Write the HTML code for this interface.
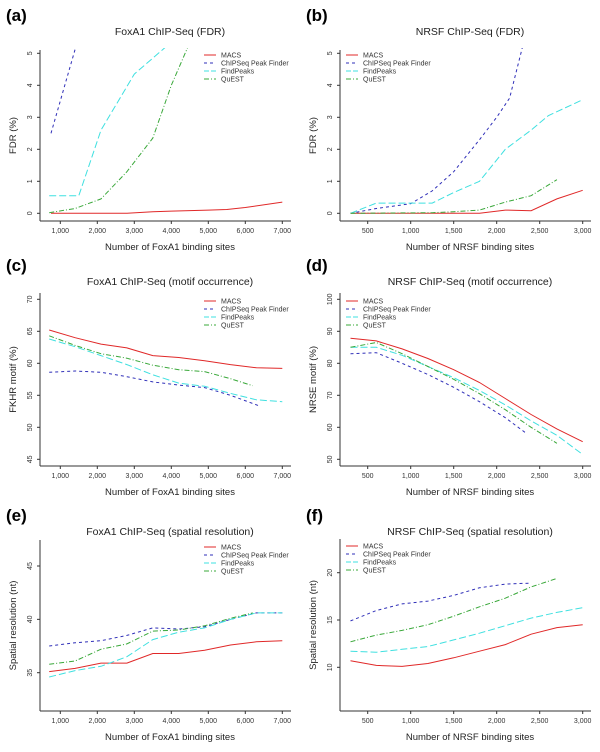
<!DOCTYPE html>
<html><head><meta charset="utf-8"><style>
html,body{margin:0;padding:0;background:#fff;}
svg{display:block;font-family:"Liberation Sans",Arial,sans-serif;}
</style></head><body>
<svg id="fig" width="600" height="752" viewBox="0 0 600 752" xmlns="http://www.w3.org/2000/svg"></svg>
<script>
// ---- data ----
const seriesNames = ["MACS","ChIPSeq Peak Finder","FindPeaks","QuEST"];
// Panel a: FoxA1 FDR
const aMACSx=[750,1500,2800,3500,4000,5000,5500,6000,7000];
const aMACSy=[0,0,0,0.05,0.07,0.1,0.12,0.18,0.35];
const aPFx=[750,1420];
const aPFy=[2.5,5.2];
const aFPx=[700,1500,2100,3000,3850];
const aFPy=[0.55,0.55,2.6,4.35,5.2];
const aQx=[700,1400,2100,2800,3500,4000,4450];
const aQy=[0.02,0.15,0.45,1.3,2.35,4.0,5.2];
// Panel b: NRSF FDR
const bMACSx=[300,1800,2100,2400,2700,3000];
const bMACSy=[0,0,0.1,0.08,0.45,0.72];
const bPFx=[300,400,600,1000,1250,1500,1800,2000,2150,2300];
const bPFy=[0,0.05,0.15,0.3,0.7,1.3,2.3,3.0,3.6,5.2];
const bFPx=[300,600,1000,1250,1500,1800,2100,2400,2600,3000];
const bFPy=[0,0.32,0.32,0.32,0.65,1.0,2.0,2.6,3.05,3.55];
const bQx=[300,1250,1500,1800,2100,2400,2700];
const bQy=[0,0.02,0.05,0.1,0.35,0.55,1.05];
// Panel c: FoxA1 motif
const cMACSx=[700,1400,2100,2800,3500,4200,4900,5600,6300,7000];
const cMACSy=[65.2,64,63,62.4,61.2,60.9,60.4,59.8,59.3,59.2];
const cPFx=[700,1400,2100,2800,3500,4200,4900,5600,6400];
const cPFy=[58.6,58.8,58.6,57.9,57.1,56.6,56.2,55.0,53.3];
const cFPx=[700,1400,2100,2800,3500,4200,4900,5600,6300,7000];
const cFPy=[63.8,62.6,61.2,59.8,58.2,56.9,56.4,55.3,54.3,54.0];
const cQx=[700,1400,2100,2800,3500,4200,4900,5600,6200];
const cQy=[64.3,62.8,61.5,60.8,59.7,59.0,58.7,57.6,56.5];
// Panel d: NRSF motif
const dMACSx=[300,600,900,1200,1500,1800,2100,2400,2700,3000];
const dMACSy=[87.8,87,84.5,81.5,78,74,69,64,59.5,55.5];
const dPFx=[300,600,900,1200,1500,1800,2100,2350];
const dPFy=[83,83.3,80,76.5,72.5,68,63,58];
const dFPx=[300,600,900,1200,1500,1800,2100,2400,2700,3000];
const dFPy=[85,85,82.5,79,75.5,71.5,67,62,57.5,51.5];
const dQx=[300,600,900,1200,1500,1800,2100,2400,2700];
const dQy=[85,86.5,83,79,75,70.5,65.5,60,55];
// Panel e: FoxA1 spatial
const eMACSx=[700,1400,2100,2800,3500,4200,4900,5600,6300,7000];
const eMACSy=[35.1,35.4,35.9,35.9,36.8,36.8,37.1,37.6,37.9,38.0];
const ePFx=[700,1400,2100,2800,3500,4200,4900,5600,6300,7000];
const ePFy=[37.5,37.8,38.0,38.5,39.2,39.1,39.3,40.0,40.6,40.6];
const eFPx=[700,1400,2100,2800,3500,4200,4900,5600,6300,7000];
const eFPy=[34.6,35.2,35.6,36.5,38.1,38.8,39.2,40.0,40.6,40.6];
const eQx=[700,1400,2100,2800,3500,4200,4900,5600,6200];
const eQy=[35.8,36.1,37.2,37.7,38.9,39.0,39.4,40.1,40.6];
// Panel f: NRSF spatial
const fMACSx=[300,600,900,1200,1500,1800,2100,2400,2700,3000];
const fMACSy=[10.7,10.2,10.1,10.4,11.0,11.7,12.4,13.5,14.2,14.5];
const fPFx=[300,600,900,1200,1500,1800,2100,2400];
const fPFy=[14.9,16.0,16.7,17.0,17.6,18.4,18.8,18.9];
const fFPx=[300,600,900,1200,1500,1800,2100,2400,2700,3000];
const fFPy=[11.7,11.6,11.9,12.2,12.9,13.6,14.4,15.2,15.8,16.3];
const fQx=[300,600,900,1200,1500,1800,2100,2400,2700];
const fQy=[12.7,13.4,13.9,14.5,15.4,16.4,17.3,18.5,19.4];
// tick labels
const foxTicks=[1000,2000,3000,4000,5000,6000,7000];
const foxTickLabels=["1,000","2,000","3,000","4,000","5,000","6,000","7,000"];
const nrsfTicks=[500,1000,1500,2000,2500,3000];
const nrsfTickLabels=["500","1,000","1,500","2,000","2,500","3,000"];
const aYTicks=[0,1,2,3,4,5];
const cYTicks=[45,50,55,60,65,70];
const dYTicks=[50,60,70,80,90,100];
const eYTicks=[35,40,45];
const fYTicks=[10,15,20];

const NS="http://www.w3.org/2000/svg";
const svg=document.getElementById('fig');
function el(tag,attrs,parent,text){const e=document.createElementNS(NS,tag);for(const k in attrs)e.setAttribute(k,attrs[k]);if(text!==undefined)e.textContent=text;(parent||svg).appendChild(e);return e;}
const styles=[
 {stroke:"#e02828",dash:""},
 {stroke:"#2f2fb8",dash:"3,3"},
 {stroke:"#3fe0e0",dash:"7,3"},
 {stroke:"#3aa83a",dash:"5,2,1,2"}];

function panel(o){
 const g=el('g',{});
 
 
 const xs=v=>o.xp0+(v-o.xv0)*(o.xp1-o.xp0)/(o.xv1-o.xv0);
 const ys=v=>o.yp0+(v-o.yv0)*(o.yp1-o.yp0)/(o.yv1-o.yv0);
 const oy=o.oy;
 const lab=el('text',{x:o.ox+6,y:oy+21,'font-size':'17','font-weight':'bold',fill:'#000'},g,'('+o.id+')');
  
 const t=el('text',{x:o.ox+170,y:oy+35,'font-size':'10.5','text-anchor':'middle',fill:'#222'},g,o.title);
  
 const axisY=oy+o.axisY;
 // axes
 const xa=el('line',{x1:o.ox+40,y1:axisY,x2:o.ox+291,y2:axisY,stroke:'#333','stroke-width':'1'},g);
  
 const ya=el('line',{x1:o.ox+40,y1:oy+o.axisTop,x2:o.ox+40,y2:axisY,stroke:'#333','stroke-width':'1'},g);
  
 o.xt.forEach((v,i)=>{
  const x=o.ox+xs(v);
  el('line',{x1:x,y1:axisY,x2:x,y2:axisY+3,stroke:'#333'},g);
  const tl=el('text',{x:x,y:axisY+12,'font-size':'7','text-anchor':'middle',fill:'#333'},g,o.xl[i]);
   
 });
 o.yt.forEach(v=>{
  const y=oy+ys(v);
  el('line',{x1:o.ox+37,y1:y,x2:o.ox+40,y2:y,stroke:'#333'},g);
  const tl=el('text',{x:o.ox+32,y:y,'font-size':'7','text-anchor':'middle',fill:'#333',transform:`rotate(-90 ${o.ox+32} ${y})`},g,String(v));
   
 });
 const xl=el('text',{x:o.ox+170,y:axisY+29,'font-size':'9.5','text-anchor':'middle',fill:'#222'},g,o.xlabel);
  
 const ymid=oy+(o.axisTop+o.axisY)/2;
 const yl=el('text',{x:o.ox+16,y:ymid,'font-size':'9.5','text-anchor':'middle',fill:'#222',transform:`rotate(-90 ${o.ox+16} ${ymid})`},g,o.ylabel);
  
 // clip
 const cid='clip'+o.id;
 const cp=el('clipPath',{id:cid},g);
 el('rect',{x:o.ox+41,y:oy+o.axisTop-2,width:252,height:o.axisY-o.axisTop+1},cp);
 const sg=el('g',{'clip-path':`url(#${cid})`},g);
 o.series.forEach((s,i)=>{
  const pts=s[0].map((xv,j)=>(o.ox+xs(xv)).toFixed(1)+','+(oy+ys(s[1][j])).toFixed(1)).join(' ');
  const pl=el('polyline',{points:pts,fill:'none',stroke:styles[i].stroke,'stroke-width':'1','stroke-dasharray':styles[i].dash},sg);
  
  
 });
 // legend
 const lg=el('g',{},g);
  
 seriesNames.forEach((n,i)=>{
  const y=oy+o.legY+i*8;
  el('line',{x1:o.ox+o.legX,y1:y,x2:o.ox+o.legX+12,y2:y,stroke:styles[i].stroke,'stroke-dasharray':styles[i].dash.replace('7,3','5,2')},lg);
  const lt=el('text',{x:o.ox+o.legX+17,y:y+2.5,'font-size':'7',fill:'#333'},lg,n);
   
 });
}
const foxX={xv0:1000,xv1:7000,xp0:60.3,xp1:282.3,xt:foxTicks,xl:foxTickLabels,xlabel:"Number of FoxA1 binding sites",legX:204};
const nrsfX={xv0:500,xv1:3000,xp0:67.7,xp1:282.7,xt:nrsfTicks,xl:nrsfTickLabels,xlabel:"Number of NRSF binding sites",legX:46};
panel(Object.assign({},foxX,{id:'a',ox:0,oy:0,title:"FoxA1 ChIP-Seq (FDR)",ylabel:"FDR (%)",yv0:0,yv1:5,yp0:213.3,yp1:53.3,yt:aYTicks,axisY:221,axisTop:50,legY:55,
 series:[[aMACSx,aMACSy],[aPFx,aPFy],[aFPx,aFPy],[aQx,aQy]]}));
panel(Object.assign({},nrsfX,{id:'b',ox:300,oy:0,title:"NRSF ChIP-Seq (FDR)",ylabel:"FDR (%)",yv0:0,yv1:5,yp0:213.3,yp1:53.3,yt:aYTicks,axisY:221,axisTop:50,legY:55,
 series:[[bMACSx,bMACSy],[bPFx,bPFy],[bFPx,bFPy],[bQx,bQy]]}));
panel(Object.assign({},foxX,{id:'c',ox:0,oy:250,title:"FoxA1 ChIP-Seq (motif occurrence)",ylabel:"FKHR motif (%)",yv0:45,yv1:70,yp0:209.3,yp1:49.3,yt:cYTicks,axisY:216,axisTop:43,legY:51,
 series:[[cMACSx,cMACSy],[cPFx,cPFy],[cFPx,cFPy],[cQx,cQy]]}));
panel(Object.assign({},nrsfX,{id:'d',ox:300,oy:250,title:"NRSF ChIP-Seq (motif occurrence)",ylabel:"NRSE motif (%)",yv0:50,yv1:100,yp0:209.3,yp1:49.3,yt:dYTicks,axisY:216,axisTop:43,legY:51,
 series:[[dMACSx,dMACSy],[dPFx,dPFy],[dFPx,dFPy],[dQx,dQy]]}));
panel(Object.assign({},foxX,{id:'e',ox:0,oy:500,title:"FoxA1 ChIP-Seq (spatial resolution)",ylabel:"Spatial resolution (nt)",yv0:35,yv1:45,yp0:172.7,yp1:66,yt:eYTicks,axisY:211,axisTop:40,legY:47,
 series:[[eMACSx,eMACSy],[ePFx,ePFy],[eFPx,eFPy],[eQx,eQy]]}));
panel(Object.assign({},nrsfX,{id:'f',ox:300,oy:500,title:"NRSF ChIP-Seq (spatial resolution)",ylabel:"Spatial resolution (nt)",yv0:10,yv1:20,yp0:167.3,yp1:72.7,yt:fYTicks,axisY:211,axisTop:39,legY:46,
 series:[[fMACSx,fMACSy],[fPFx,fPFy],[fFPx,fFPy],[fQx,fQy]]}));
</script>
</body></html>
